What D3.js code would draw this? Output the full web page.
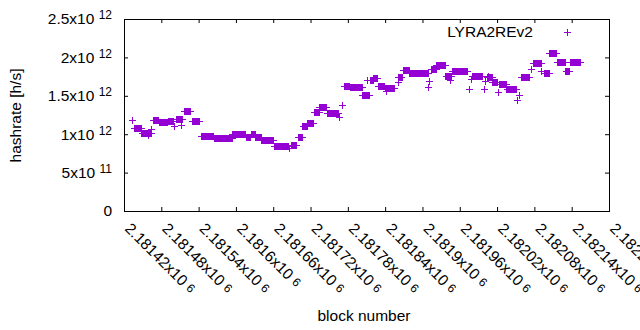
<!DOCTYPE html>
<meta charset="utf-8">
<style>
  body { margin: 0; background: #fff; }
  svg text { font-family: "Liberation Sans", Arial, sans-serif; font-size: 15.5px; fill: #000; }
  .axis path.domain { display: none; }
  .axis line { stroke: #000; }
</style>
<body>
<script src="https://cdn.jsdelivr.net/npm/d3@7/dist/d3.min.js"></script>
<script>
var width = 640, height = 330;
var margin = {top: 19, right: 31, bottom: 119, left: 124};
var w = width - margin.left - margin.right,
    h = height - margin.top - margin.bottom;
var color = "#9400d3";

// stretches of blocks with the same hashrate: first block, last block, h/s
var runStart = [2181437, 2181449, 2181468, 2181477, 2181491, 2181504, 2181517, 2181530, 2181545, 2181551,
  2181565, 2181595, 2181617, 2181625, 2181632, 2181642, 2181662, 2181689, 2181700, 2181708,
  2181716, 2181727, 2181735, 2181747, 2181775, 2181784, 2181804, 2181816, 2181822, 2181830,
  2181840, 2181862, 2181869, 2181880, 2181914, 2181923, 2181938, 2181948, 2181980, 2182005,
  2182013, 2182024, 2182036, 2182059, 2182078, 2182097, 2182105, 2182117, 2182131, 2182138];
var runEnd = [2181448, 2181464, 2181476, 2181490, 2181500, 2181514, 2181527, 2181542, 2181550, 2181563,
  2181594, 2181616, 2181624, 2181631, 2181641, 2181661, 2181684, 2181697, 2181707, 2181715,
  2181724, 2181734, 2181746, 2181765, 2181783, 2181803, 2181815, 2181821, 2181828, 2181839,
  2181855, 2181867, 2181879, 2181909, 2181922, 2181937, 2181946, 2181973, 2181996, 2182012,
  2182021, 2182035, 2182051, 2182072, 2182091, 2182104, 2182116, 2182130, 2182136, 2182154];
var runRate = [1.077e12, 1.009e12, 1.178e12, 1.146e12, 1.159e12, 1.185e12, 1.296e12, 1.165e12, 0.964e12, 0.967e12,
  0.947e12, 0.990e12, 0.962e12, 0.990e12, 0.961e12, 0.924e12, 0.837e12, 0.859e12, 0.951e12, 1.094e12,
  1.133e12, 1.289e12, 1.352e12, 1.272e12, 1.615e12, 1.608e12, 1.504e12, 1.693e12, 1.719e12, 1.619e12,
  1.589e12, 1.741e12, 1.829e12, 1.784e12, 1.836e12, 1.895e12, 1.745e12, 1.810e12, 1.745e12, 1.738e12,
  1.673e12, 1.647e12, 1.576e12, 1.738e12, 1.923e12, 1.784e12, 2.053e12, 1.934e12, 1.816e12, 1.934e12];

// lone blocks
var pointBlock = [2181433, 2181460, 2181464, 2181501, 2181512, 2181686, 2181766, 2181771, 2181812, 2181842,
  2181861, 2181910, 2181912, 2181945, 2181975, 2181979, 2182000, 2182002, 2182007, 2182023,
  2182053, 2182056, 2182075, 2182092];
var pointRate = [1.176e12, 0.977e12, 1.064e12, 1.098e12, 1.107e12, 0.816e12, 1.220e12, 1.380e12, 1.693e12, 1.553e12,
  1.671e12, 1.611e12, 1.684e12, 1.693e12, 1.585e12, 1.715e12, 1.585e12, 1.684e12, 1.750e12, 1.540e12,
  1.436e12, 1.510e12, 1.845e12, 1.820e12];

var xTicks = [2181420, 2181480, 2181540, 2181600, 2181660, 2181720, 2181780,
  2181840, 2181900, 2181960, 2182020, 2182080, 2182140, 2182200];
var yTicks = [0, 5e11, 1e12, 1.5e12, 2e12, 2.5e12];

var x = d3.scaleLinear().domain([2181420, 2182200]).range([0, w]);
var y = d3.scaleLinear().domain([0, 2.5e12]).range([h, 0]);

var svg = d3.select("body").append("svg")
  .attr("width", width)
  .attr("height", height);
var g = svg.append("g")
  .attr("transform", "translate(" + margin.left + "," + margin.top + ")");

// "2.5x10^12" style labels
function sci(text, v, supSize, supDy) {
  text.text(null);
  if (v === 0) { text.text("0"); return; }
  var parts = v.toExponential().split("e");
  var m = +(+parts[0]).toFixed(5);
  var e = +parts[1];
  text.append("tspan").text(m + "x10 ");
  text.append("tspan").attr("dy", supDy).style("font-size", supSize + "px").text(e);
}

g.append("g").attr("class", "axis")
  .call(d3.axisLeft(y).tickValues(yTicks).tickSize(-4).tickPadding(12))
  .selectAll(".tick text")
  .each(function(d) { sci(d3.select(this), d, 12, -5); });

g.append("g").attr("class", "axis")
  .attr("transform", "translate(" + w + ",0)")
  .call(d3.axisRight(y).tickValues(yTicks).tickSize(-4).tickFormat(""));

g.append("g").attr("class", "axis")
  .call(d3.axisTop(x).tickValues(xTicks).tickSize(-4).tickFormat(""));

g.append("g").attr("class", "axis")
  .attr("transform", "translate(0," + h + ")")
  .call(d3.axisBottom(x).tickValues(xTicks).tickSize(-4))
  .selectAll(".tick text")
  .attr("x", 0).attr("y", 0).attr("dy", null)
  .attr("text-anchor", "start")
  .attr("transform", "translate(-0.5,18.5) rotate(45)")
  .each(function(d) { sci(d3.select(this), d, 12, -1.5); });

g.append("rect")
  .attr("x", 0.5).attr("y", 0.5)
  .attr("width", w).attr("height", h)
  .attr("fill", "none").attr("stroke", "#000")
  .attr("shape-rendering", "crispEdges");

var runs = runStart.map(function(s, i) { return {s: s, e: runEnd[i], v: runRate[i]}; });
var pts = pointBlock.map(function(b, i) { return {b: b, v: pointRate[i]}; });
var arm = 3.5;

var marks = g.append("g").attr("shape-rendering", "crispEdges");
marks.selectAll("rect.run").data(runs).join("rect")
  .attr("class", "run")
  .attr("x", function(d) { return x(d.s) - 0.6; })
  .attr("width", function(d) { return x(d.e) - x(d.s) + 1.2; })
  .attr("y", function(d) { return y(d.v) - arm; })
  .attr("height", arm * 2)
  .attr("fill", color);
marks.selectAll("line.run").data(runs).join("line")
  .attr("class", "run")
  .attr("x1", function(d) { return x(d.s) - arm; })
  .attr("x2", function(d) { return x(d.e) + arm; })
  .attr("y1", function(d) { return y(d.v); })
  .attr("y2", function(d) { return y(d.v); })
  .attr("stroke", color);
marks.selectAll("path.pt").data(pts).join("path")
  .attr("class", "pt")
  .attr("d", function(d) {
    var px = x(d.b), py = y(d.v);
    return "M" + (px - arm) + "," + py + "H" + (px + arm) + "M" + px + "," + (py - arm) + "V" + (py + arm);
  })
  .attr("fill", "none")
  .attr("stroke", color);

// legend
svg.append("text")
  .attr("x", 533).attr("y", 37)
  .attr("text-anchor", "end")
  .text("LYRA2REv2");
svg.append("path")
  .attr("d", "M563.5,32H570.5M567,28.5V35.5")
  .attr("stroke", color)
  .attr("shape-rendering", "crispEdges");

// axis titles
svg.append("text")
  .attr("transform", "translate(21,115.5) rotate(-90)")
  .attr("text-anchor", "middle")
  .text("hashrate [h/s]");
svg.append("text")
  .attr("x", 364).attr("y", 321)
  .attr("text-anchor", "middle")
  .text("block number");
</script>
</body>
